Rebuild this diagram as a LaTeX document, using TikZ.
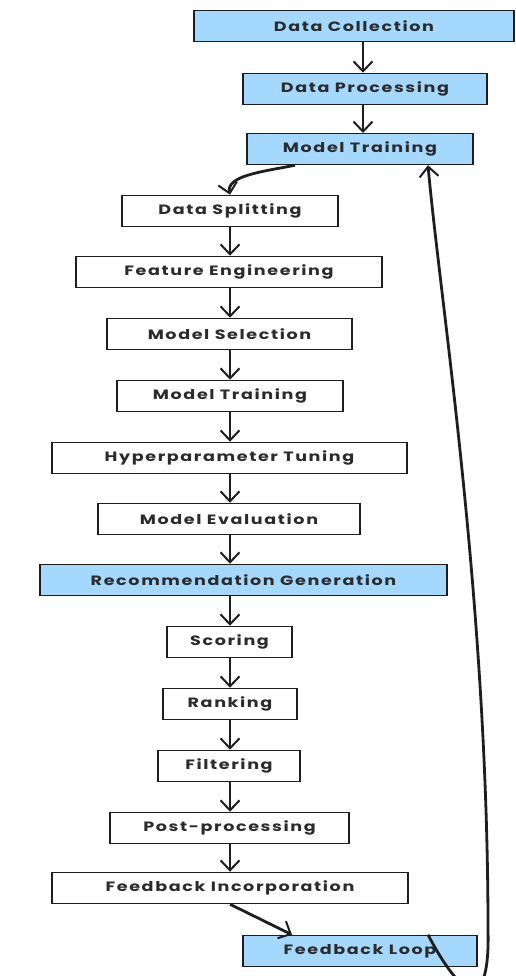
\documentclass[tikz,border=0pt]{standalone}
\usepackage{fontspec}
\setmainfont{Poppins}[FakeStretch=1.3,LetterSpace=12]
\usetikzlibrary{arrows.meta}
\definecolor{boxblue}{HTML}{A5D8FF}
\definecolor{ink}{HTML}{1E1E1E}
\definecolor{txt}{HTML}{2B2B2B}
\begin{document}
\begin{tikzpicture}[x=1pt,y=-1pt,
  stepbox/.style={draw=ink,line width=1.5pt,fill=white,minimum height=31pt,inner sep=0pt,
    font=\fontsize{13.5}{15}\selectfont\bfseries,text=txt},
  bluebox/.style={stepbox,fill=boxblue},
  conn/.style={draw=ink,line width=2.8pt,-{Straight Barb[length=10pt,width=19pt,line width=2pt]}}]
\useasboundingbox (0,0) rectangle (515,976);
\node[bluebox,minimum width=320pt] (dc) at (354,26) {Data Collection};
\node[bluebox,minimum width=244pt] (dp) at (365,89) {Data Processing};
\node[bluebox,minimum width=226pt] (mt1) at (360,149) {Model Training};
\node[stepbox,minimum width=216pt] (ds) at (230,211) {Data Splitting};
\node[stepbox,minimum width=306pt] (fe) at (229,272) {Feature Engineering};
\node[stepbox,minimum width=245pt] (ms) at (229.5,334) {Model Selection};
\node[stepbox,minimum width=226pt] (mt2) at (230,396) {Model Training};
\node[stepbox,minimum width=355pt] (ht) at (229.5,458) {Hyperparameter Tuning};
\node[stepbox,minimum width=262pt] (me) at (229,519) {Model Evaluation};
\node[bluebox,minimum width=407pt] (rg) at (243.5,580) {Recommendation Generation};
\node[stepbox,minimum width=125pt] (sc) at (229.5,642) {Scoring};
\node[stepbox,minimum width=134pt] (rk) at (230,704) {Ranking};
\node[stepbox,minimum width=142pt] (fi) at (229,766) {Filtering};
\node[stepbox,minimum width=239pt] (pp) at (229.5,828) {Post-processing};
\node[stepbox,minimum width=356pt] (fb) at (230,888) {Feedback Incorporation};
\node[bluebox,minimum width=234pt] (fl) at (360,951) {Feedback Loop};
\coordinate (dcS) at (363,42);
\draw[conn] (dcS) -- (dcS |- dp.north);
\draw[conn] (363,105) -- (363,133);
\draw[conn] ([xshift=-65pt]mt1.south) .. controls (260,172) and (226,176) .. (ds.north);
\foreach \a/\b in {ds/fe,fe/ms,ms/mt2,mt2/ht,ht/me,me/rg,rg/sc,sc/rk,rk/fi,fi/pp,pp/fb}{
  \draw[conn] (\a.south -| 230,0) -- (\b.north -| 230,0);
}
\draw[conn] (fb.south) -- ([xshift=-68pt]fl.north);
\draw[conn] ([xshift=68pt]fl.north) .. controls (465,1005) and (490,1010) .. (488,930)
  .. controls (488,600) and (440,300) .. ([xshift=68pt]mt1.south);
\end{tikzpicture}
\end{document}
